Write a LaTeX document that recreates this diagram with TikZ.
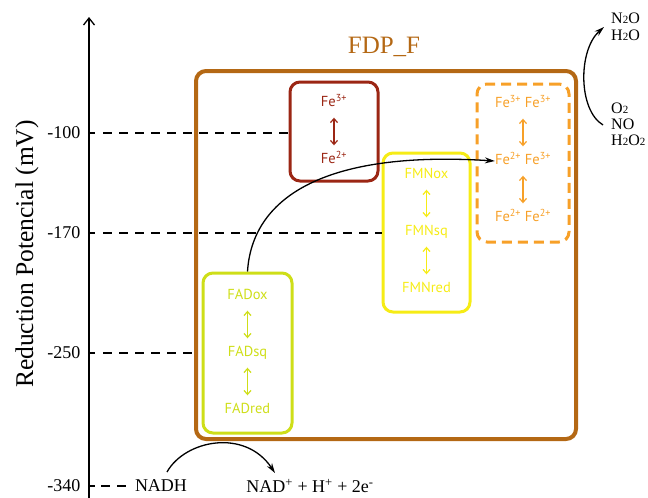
\documentclass[tikz,border=0pt]{standalone}
\usepackage{fontspec}
\setmainfont{Liberation Serif}
\newfontfamily\labelsans{PT Sans}
\usetikzlibrary{arrows.meta}

\definecolor{fdpbrown}{RGB}{180,104,20}
\definecolor{fered}{RGB}{155,38,20}
\definecolor{clusterorange}{RGB}{247,160,40}
\definecolor{fmnyellow}{RGB}{246,236,22}
\definecolor{fadgreen}{RGB}{206,222,24}

\newcommand{\chemsub}[1]{{\fontsize{11}{11}\selectfont #1}}

\tikzset{
  serif/.style={font=\fontsize{18}{20}\selectfont},
  levelline/.style={line width=1.3pt, dash pattern=on 9pt off 7pt},
  tickmark/.style={line width=1.3pt},
  groupbox/.style={rounded corners=10pt, line width=3pt, fill=none},
  statetext/.style={font=\labelsans\fontsize{14.5}{16}\selectfont, inner sep=0pt,
                    text height=10pt, text depth=3pt},
  swap/.style={line width=1.2pt, {Straight Barb[length=4pt,width=7pt]}-{Straight Barb[length=4pt,width=7pt]},
               shorten <=8pt, shorten >=8pt},
  flow/.style={line width=1.3pt, -{Stealth[length=10pt,width=6pt]}},
  chem/.style={font=\fontsize{16}{16}\selectfont, anchor=west, inner sep=0pt},
}

\begin{document}
\begin{tikzpicture}[x=1pt,y=-1pt]
\useasboundingbox (0,0) rectangle (648,498);

% potential axis
\coordinate (axbot) at (89,498);
\coordinate (axtop) at (89,17);
\draw[line width=1.3pt, -{Straight Barb[length=7pt,width=11pt]}] (axbot) -- (axtop);
\node[font=\fontsize{25.5}{27}\selectfont, rotate=90] (ylab) at (27,254) {Reduction Potencial (mV)};

% tick labels
\node[serif, anchor=east] (t100) at (84,133) {-100};
\node[serif, anchor=east] (t170) at (84,233) {-170};
\node[serif, anchor=east] (t250) at (84,353) {-250};
\node[serif, anchor=east] (t340) at (84,486) {-340};

% outer FDP_F box
\node[groupbox, draw=fdpbrown, line width=4pt, minimum width=380pt, minimum height=368pt] (fdp) at (386,255) {};
\node[font=\fontsize{25}{27}\selectfont, text=fdpbrown] (fdplab) at (384,47) {FDP\_F};

% Fe site
\node[groupbox, draw=fered, minimum width=88pt, minimum height=99pt] (febox) at (334,131.5) {};
\node[statetext, text=fered] (fe3) at (334,103) {Fe\textsuperscript{3+}};
\node[statetext, text=fered] (fe2) at (334,160) {Fe\textsuperscript{2+}};
\draw[swap, draw=fered] (fe3) -- (fe2);

% diiron cluster
\node[groupbox, draw=clusterorange, dash pattern=on 10pt off 6pt, minimum width=92pt, minimum height=158pt] (clbox) at (523,163) {};
\node[statetext, text=clusterorange] (cltop) at (523,104) {Fe\textsuperscript{3+} Fe\textsuperscript{3+}};
\node[statetext, text=clusterorange] (clmid) at (523,161) {Fe\textsuperscript{2+} Fe\textsuperscript{3+}};
\node[statetext, text=clusterorange] (clbot) at (523,218) {Fe\textsuperscript{2+} Fe\textsuperscript{2+}};
\draw[swap, draw=clusterorange] (cltop) -- (clmid);
\draw[swap, draw=clusterorange] (clmid) -- (clbot);

% FMN
\node[groupbox, draw=fmnyellow, minimum width=87pt, minimum height=159pt] (fmnbox) at (426.5,232.5) {};
\node[statetext, text=fmnyellow] (fmnox) at (426.5,175) {FMNox};
\node[statetext, text=fmnyellow] (fmnsq) at (426.5,232) {FMNsq};
\node[statetext, text=fmnyellow] (fmnred) at (426.5,289) {FMNred};
\draw[swap, draw=fmnyellow] (fmnox) -- (fmnsq);
\draw[swap, draw=fmnyellow] (fmnsq) -- (fmnred);

% FAD
\node[groupbox, draw=fadgreen, minimum width=89pt, minimum height=160pt] (fadbox) at (247.5,353) {};
\node[statetext, text=fadgreen] (fadox) at (247.5,296) {FADox};
\node[statetext, text=fadgreen] (fadsq) at (247.5,353) {FADsq};
\node[statetext, text=fadgreen] (fadred) at (247.5,410) {FADred};
\draw[swap, draw=fadgreen] (fadox) -- (fadsq);
\draw[swap, draw=fadgreen] (fadsq) -- (fadred);

% potential levels
\coordinate (l100a) at (89,133);  \coordinate (l100b) at (95,133);
\coordinate (l170a) at (89,233);  \coordinate (l170b) at (95,233);
\coordinate (l250a) at (89,353);  \coordinate (l250b) at (95,353);
\coordinate (l340a) at (89,486);  \coordinate (l340b) at (95,486);
\draw[tickmark] (l100a) -- (l100b);
\draw[tickmark] (l170a) -- (l170b);
\draw[tickmark] (l250a) -- (l250b);
\draw[tickmark] (l340a) -- (l340b);
\coordinate (d100) at (103,133);
\coordinate (d170) at (103,233);
\coordinate (d250) at (103,353);
\coordinate (d340a) at (101,486);
\coordinate (d340b) at (127,486);
\draw[levelline] (d100) -- (febox.west |- d100);
\draw[levelline] (d170) -- (fmnbox.west |- d170);
\draw[levelline] (d250) -- (196,353);
\draw[levelline] (d340a) -- (d340b);

% electron transfer
\draw[flow] (fadbox.north) .. controls (252,200) and (320,150) .. (clmid.west);

% NADH oxidation
\node[serif] (nadh) at (161,486) {NADH};
\node[serif] (nad) at (310,486) {NAD\textsuperscript{+} + H\textsuperscript{+} + 2e\textsuperscript{-}};
\coordinate (nadhstart) at (167,472);
\coordinate (nadend) at (275,473);
\draw[flow] (nadhstart) .. controls (185,440) and (245,428) .. (nadend);

% substrate reduction
\node[chem] (n2o) at (611,18) {N\chemsub{2}O};
\node[chem] (h2o) at (611,35) {H\chemsub{2}O};
\node[chem] (o2) at (611,108) {O\chemsub{2}};
\node[chem] (no) at (611,124) {NO};
\node[chem] (h2o2) at (611,140) {H\chemsub{2}O\chemsub{2}};
\coordinate (substart) at (603,125);
\coordinate (prodend) at (604,27);
\draw[flow] (substart) .. controls (578,110) and (578,50) .. (prodend);
\end{tikzpicture}
\end{document}
